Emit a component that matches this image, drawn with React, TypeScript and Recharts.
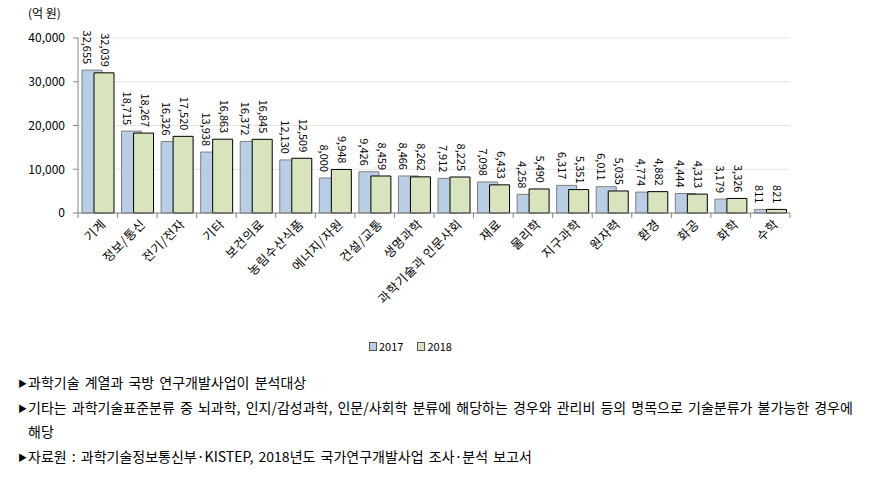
import React from 'react';
import { BarChart, Bar, XAxis, YAxis, CartesianGrid, LabelList } from 'recharts';

const categories = [
  '기계', '정보/통신', '전기/전자', '기타', '보건의료', '농림수산식품', '에너지/자원', '건설/교통', '생명과학',
  '과학기술과 인문사회', '재료', '물리학', '지구과학', '원자력', '환경', '화공', '화학', '수학',
];
const values2017 = [32655, 18715, 16326, 13938, 16372, 12130, 8000, 9426, 8466, 7912, 7098, 4258, 6317, 6011, 4774, 4444, 3179, 811];
const values2018 = [32039, 18267, 17520, 16863, 16845, 12509, 9948, 8459, 8262, 8225, 6433, 5490, 5351, 5035, 4882, 4313, 3326, 821];
const yTicks = [0, 10000, 20000, 30000, 40000];
const seriesNames = ['2017', '2018'];
const unitLabel = '(억 원)';
const notes = [
  '과학기술 계열과 국방 연구개발사업이 분석대상',
  '기타는 과학기술표준분류 중 뇌과학, 인지/감성과학, 인문/사회학 분류에 해당하는 경우와 관리비 등의 명목으로 기술분류가 불가능한 경우에',
  '해당',
  '자료원 : 과학기술정보통신부·KISTEP, 2018년도 국가연구개발사업 조사·분석 보고서',
];

const data = categories.map((c, i) => ({ name: c, v2017: values2017[i], v2018: values2018[i] }));

const W = 869;
const H = 360;
const Y_W = 78;
const margin = { top: 38, right: 79, left: 0, bottom: 0 };
const AXIS_Y = 213;
const XH = H - AXIS_Y - margin.bottom;
const plotWidth = W - margin.left - margin.right - Y_W;
const band = plotWidth / categories.length;
const FONT = '"Noto Sans CJK KR", "Noto Sans", sans-serif';
const AXIS_COLOR = '#868686';

const fmt = (v: number) => v.toLocaleString('en-US');

const XTick = (props: any) => {
  const { x, y, payload, index } = props;
  const half = band / 2;
  return (
    <g>
      {index === 0 && <line x1={x - half} x2={x - half} y1={y} y2={y + 5} stroke={AXIS_COLOR} />}
      <line x1={x + half} x2={x + half} y1={y} y2={y + 5} stroke={AXIS_COLOR} />
      <text
        transform={`translate(${x + 9},${y + 12}) rotate(-45)`}
        textAnchor="end"
        fontSize={12.5}
        letterSpacing={0.6}
        fontFamily={FONT}
        fill="#000"
      >
        {payload.value}
      </text>
    </g>
  );
};

const makeLabel = (dx: number) => (p: any) => {
  const cx = p.x + p.width / 2 + dx;
  return (
    <text
      transform={`translate(${cx},${p.y - 6}) rotate(90)`}
      textAnchor="end"
      dominantBaseline="central"
      fontSize={11}
      fontFamily={FONT}
      fill="#000"
    >
      {fmt(Number(p.value))}
    </text>
  );
};

const noteTops = [372, 397, 421, 446];

export default function App() {
  return (
    <div style={{ position: 'absolute', left: 0, top: 0, width: W, height: 482, background: '#fff', fontFamily: FONT }}>
      <div style={{ position: 'absolute', left: 28, top: 5, fontSize: 12, color: '#000', lineHeight: '16px' }}>{unitLabel}</div>
      <BarChart width={W} height={H} data={data} margin={margin} barGap={-8} style={{ position: 'absolute', left: 0, top: 0 }}>
        <CartesianGrid vertical={false} stroke="#e3e3e3" />
        <XAxis
          dataKey="name"
          interval={0}
          height={XH}
          tickSize={0}
          tickMargin={0}
          tickLine={false}
          axisLine={{ stroke: AXIS_COLOR }}
          tick={<XTick />}
        />
        <YAxis
          width={Y_W}
          domain={[0, 40000]}
          ticks={yTicks}
          tickFormatter={fmt}
          tickSize={5}
          tickMargin={8}
          tickLine={{ stroke: AXIS_COLOR }}
          axisLine={{ stroke: AXIS_COLOR }}
          tick={{ fontSize: 12, fill: '#000', fontFamily: FONT }}
        />
        <Bar dataKey="v2017" name={seriesNames[0]} fill="#b9cde5" stroke="#7f7f7f" barSize={20} isAnimationActive={false}>
          <LabelList dataKey="v2017" content={makeLabel(-4)} />
        </Bar>
        <Bar dataKey="v2018" name={seriesNames[1]} fill="#d7e4bd" stroke="#000" barSize={20} isAnimationActive={false}>
          <LabelList dataKey="v2018" content={makeLabel(2)} />
        </Bar>
      </BarChart>
      <div style={{ position: 'absolute', left: 369, top: 338, fontSize: 11, color: '#000', display: 'flex', alignItems: 'center', lineHeight: '16px' }}>
        <span style={{ width: 6, height: 7, background: '#b9cde5', border: '1px solid #555', marginRight: 2, display: 'inline-block' }} />
        <span style={{ marginRight: 14 }}>{seriesNames[0]}</span>
        <span style={{ width: 6, height: 7, background: '#d7e4bd', border: '1px solid #555', marginRight: 2, display: 'inline-block' }} />
        <span>{seriesNames[1]}</span>
      </div>
      {notes.map((n, i) => (
        <div
          key={i}
          style={{
            position: 'absolute',
            left: i === 2 ? 28 : 18,
            top: noteTops[i],
            fontSize: 14,
            lineHeight: '20px',
            color: '#000',
            whiteSpace: 'nowrap',
            wordSpacing: 2,
          }}
        >
          {i === 2 ? '' : <span style={{ fontSize: 9, marginRight: 1, verticalAlign: 1 }}>▶</span>}
          {n}
        </div>
      ))}
    </div>
  );
}
